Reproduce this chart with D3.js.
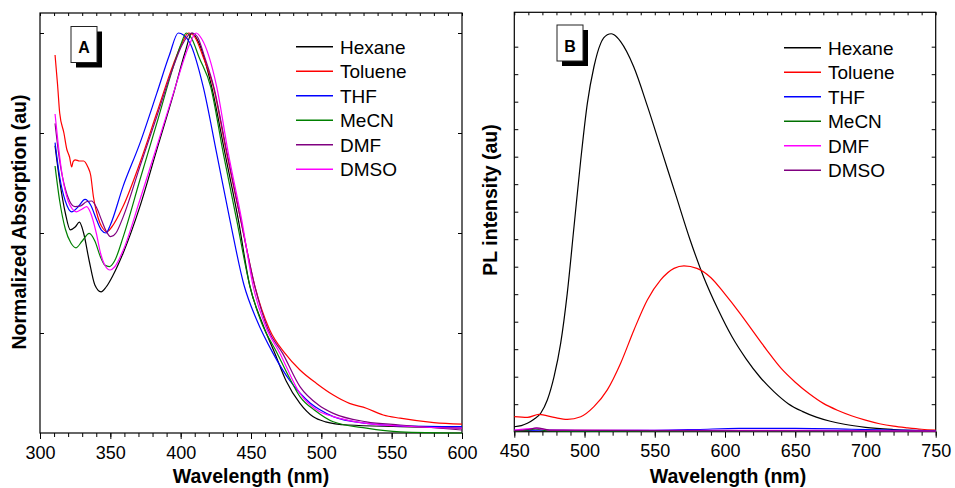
<!DOCTYPE html>
<html>
<head>
<meta charset="utf-8">
<script src="https://cdn.jsdelivr.net/npm/d3@7"></script>
<style>
  body { margin: 0; background: #fff; }
  svg { display: block; font-family: Arial, "Liberation Sans", sans-serif; }
</style>
</head>
<body>
<svg id="chart" width="955" height="488"></svg>
<script>
// solvents, same order in both legends
var solvents = ["Hexane", "Toluene", "THF", "MeCN", "DMF", "DMSO"];

// panel A : normalized absorption, [wavelength nm, value]
var absHexane = [[310.7,0.718],[314,0.63],[318,0.55],[321.5,0.508],[325,0.515],[328,0.527],[331,0.5],[335,0.43],[339,0.37],[343.4,0.353],[347,0.365],[352,0.395],[359,0.449],[371,0.566],[383,0.708],[395,0.849],[403,0.95],[408,1.0],[413,0.975],[422,0.866],[431.5,0.699],[441,0.533],[449,0.37],[458,0.275],[467,0.199],[475,0.13],[484.8,0.074],[494,0.041],[503,0.028],[519,0.02],[556,0.016],[600,0.012]];
var absToluene = [[310.7,0.945],[312.5,0.87],[314,0.8],[317,0.75],[319,0.71],[321,0.69],[322.5,0.665],[323.5,0.678],[325,0.683],[328,0.68],[331,0.68],[334,0.665],[336,0.645],[338,0.59],[340,0.555],[342.6,0.525],[345,0.51],[347.4,0.503],[351,0.515],[359,0.566],[371,0.675],[383,0.8],[395,0.924],[401,0.975],[405.5,1.0],[410,0.99],[416,0.94],[423.2,0.866],[432.7,0.699],[442.7,0.533],[452.8,0.366],[463,0.26],[474.2,0.199],[484.8,0.1575],[496.6,0.124],[508.5,0.095],[520,0.074],[532,0.062],[544,0.045],[556,0.037],[580,0.026],[600,0.022]];
var absTHF = [[310.7,0.726],[314,0.64],[318,0.58],[322.5,0.553],[327,0.565],[332,0.584],[336,0.57],[340,0.535],[343.5,0.508],[347,0.5],[350,0.52],[359,0.616],[371,0.724],[383,0.849],[392,0.945],[398.3,1.0],[402,0.995],[406.6,0.975],[416,0.866],[425.6,0.699],[435,0.533],[445,0.37],[454,0.283],[465.7,0.199],[477.8,0.13],[484.8,0.1],[492,0.075],[499,0.058],[508.5,0.041],[532,0.024],[556,0.018],[600,0.016]];
var absMeCN = [[310.7,0.6675],[314,0.58],[318,0.51],[322,0.475],[325.6,0.463],[330,0.48],[335,0.499],[339,0.48],[343,0.44],[346,0.42],[349.3,0.416],[353,0.43],[359.2,0.491],[371,0.6325],[383,0.774],[394.8,0.916],[400,0.97],[404,1.0],[408,0.985],[413,0.94],[421.3,0.866],[430.3,0.699],[439.8,0.533],[449.3,0.366],[457,0.28],[468.7,0.199],[477,0.14],[484.8,0.091],[496,0.055],[508.5,0.028],[532,0.012],[556,0.003],[600,0.0]];
var absDMF = [[310.7,0.774],[314,0.68],[318,0.61],[321,0.58],[324.9,0.566],[329,0.568],[333,0.578],[336.7,0.58],[340,0.565],[344,0.53],[347,0.505],[350.2,0.491],[354,0.5],[359.2,0.541],[371,0.666],[383,0.791],[394.8,0.916],[401,0.97],[408,1.0],[412,0.99],[417,0.94],[423.5,0.866],[433,0.699],[442.7,0.533],[452.8,0.366],[462,0.26],[472.5,0.199],[484.8,0.116],[498,0.07],[508.5,0.049],[532,0.028],[556,0.02],[600,0.0075]];
var absDMSO = [[310.7,0.7975],[313,0.72],[316,0.64],[320,0.58],[323,0.56],[326,0.553],[330,0.56],[333.2,0.566],[336,0.55],[340,0.5],[343,0.45],[346,0.42],[349.8,0.4075],[353,0.415],[359.2,0.4575],[371,0.5825],[383,0.716],[394.8,0.849],[406.6,0.974],[411,1.0],[415,0.985],[425.6,0.866],[433.9,0.699],[443.4,0.533],[451.6,0.366],[460,0.27],[470.6,0.199],[484.8,0.099],[498,0.055],[508.5,0.041],[532,0.024],[556,0.0175],[600,0.012]];

// panel B : PL intensity (arbitrary units)
var plHexane = [[450,0.18],[455,0.22],[459.3,0.305],[464,0.45],[468.8,0.67],[473.5,1.15],[478.3,2.0],[483,3.21],[487.7,5.03],[492.5,7.45],[497.3,9.88],[502,11.94],[506.7,13.27],[511.5,14.12],[516.2,14.43],[519,14.47],[521,14.43],[525.7,14.18],[535,13.27],[545,11.8],[555,10.2],[565,8.6],[575,7.0],[585,5.6],[595,4.45],[605,3.45],[615,2.65],[625,1.98],[635,1.45],[645,1.02],[655,0.74],[665,0.53],[675,0.38],[685,0.27],[700,0.16],[720,0.08],[750,0.025]];
var plToluene = [[450,0.545],[459.3,0.52],[467.6,0.63],[478.3,0.52],[487.7,0.45],[497.3,0.545],[506.7,0.91],[516.2,1.52],[525.7,2.49],[535.2,3.7],[544.7,4.79],[554.2,5.52],[563.7,5.94],[570.8,6.03],[580,5.94],[590,5.6],[600,5.0],[610,4.35],[620,3.65],[630,2.95],[640,2.3],[650,1.8],[660,1.38],[670,1.03],[680,0.78],[690,0.58],[700,0.42],[710,0.29],[720,0.2],[730,0.14],[740,0.09],[750,0.06]];
var plTHF = [[450,0.05],[470,0.06],[500,0.04],[550,0.05],[580,0.08],[610,0.12],[650,0.12],[690,0.09],[720,0.06],[750,0.03]];
var plMeCN = [[450,0.03],[460,0.06],[465,0.1],[472,0.04],[500,0.02],[600,0.02],[750,0.01]];
var plDMF = [[450,0.06],[465,0.12],[475,0.06],[550,0.05],[650,0.05],[750,0.02]];
var plDMSO = [[450,0.04],[460,0.08],[466,0.14],[475,0.06],[550,0.04],[650,0.03],[750,0.02]];

// axis ticks
var xTicksA = [300, 350, 400, 450, 500, 550, 600];
var xTicksB = [450, 500, 550, 600, 650, 700, 750];
var yTicksA = [0.25, 0.5, 0.75, 1];
var yTicksB = [1, 2, 3, 4, 5, 6, 7, 8, 9, 10, 11, 12, 13, 14];

var svg = d3.select("#chart");

function drawPanel(p) {
  var x = d3.scaleLinear().domain(p.xDomain).range([p.left, p.right]);
  var y = d3.scaleLinear().domain(p.yDomain).range([p.bottom, p.top]);
  var g = svg.append("g");

  var minor = d3.range(p.xDomain[0], p.xDomain[1] + 1, 10);

  // bottom axis, ticks outside
  g.append("g")
    .attr("transform", "translate(0," + p.bottom + ")")
    .call(d3.axisBottom(x).tickValues(minor).tickSize(4).tickFormat(""))
    .call(function(a) { a.select(".domain").remove(); });
  g.append("g")
    .attr("transform", "translate(0," + p.bottom + ")")
    .call(d3.axisBottom(x).tickValues(p.xTicks).tickSize(6).tickPadding(7))
    .call(function(a) {
      a.select(".domain").remove();
      a.selectAll("text").attr("font-size", "18px").attr("fill", "#000")
        .style("font-family", "Arial, 'Liberation Sans', sans-serif");
    });

  // top axis, small ticks inside
  g.append("g")
    .attr("transform", "translate(0," + p.top + ")")
    .call(d3.axisTop(x).tickValues(minor).tickSize(-3).tickFormat(""))
    .call(function(a) { a.select(".domain").remove(); });

  // left and right, inside
  g.append("g")
    .attr("transform", "translate(" + p.left + ",0)")
    .call(d3.axisLeft(y).tickValues(p.yTicks).tickSize(-4).tickFormat(""))
    .call(function(a) { a.select(".domain").remove(); });
  g.append("g")
    .attr("transform", "translate(" + p.right + ",0)")
    .call(d3.axisRight(y).tickValues(p.yTicks).tickSize(-4).tickFormat(""))
    .call(function(a) { a.select(".domain").remove(); });

  // frame
  g.append("rect")
    .attr("x", p.left).attr("y", p.top)
    .attr("width", p.right - p.left).attr("height", p.bottom - p.top)
    .attr("fill", "none").attr("stroke", "#000").attr("stroke-width", 1.2);

  // curves
  var line = d3.line()
    .x(function(d) { return x(d[0]); })
    .y(function(d) { return y(d[1]); })
    .curve(d3.curveMonotoneX);

  p.series.forEach(function(s, i) {
    g.append("path")
      .datum(s)
      .attr("d", line)
      .attr("fill", "none")
      .attr("stroke", p.colors[i])
      .attr("stroke-width", 1.2);
  });

  // legend
  solvents.forEach(function(name, i) {
    var ly = p.legendY + i * 24.5;
    g.append("line")
      .attr("x1", p.legendX).attr("x2", p.legendX + 37)
      .attr("y1", ly).attr("y2", ly)
      .attr("stroke", p.colors[i]).attr("stroke-width", 1.5);
    g.append("text")
      .attr("x", p.legendX + 44).attr("y", ly + 7)
      .attr("font-size", "19px")
      .text(name);
  });

  // letter box with shadow
  g.append("rect")
    .attr("x", p.boxX + 5).attr("y", p.boxY + 5)
    .attr("width", 26).attr("height", 36)
    .attr("fill", "#000");
  g.append("rect")
    .attr("x", p.boxX).attr("y", p.boxY)
    .attr("width", 26).attr("height", 36)
    .attr("fill", "#fff").attr("stroke", "#222").attr("stroke-width", 1);
  g.append("text")
    .attr("x", p.boxX + 13).attr("y", p.boxY + 26.5)
    .attr("text-anchor", "middle")
    .attr("font-size", "16px").attr("font-weight", "bold")
    .text(p.letter);

  // axis titles
  g.append("text")
    .attr("x", (p.left + p.right) / 2 + p.xTitleShift).attr("y", 483)
    .attr("text-anchor", "middle")
    .attr("font-size", "19.5px").attr("font-weight", "bold")
    .text("Wavelength (nm)");
  g.append("text")
    .attr("transform", "translate(" + p.yTitleX + "," + p.yTitleY + ") rotate(-90)")
    .attr("text-anchor", "middle")
    .attr("font-size", "19.5px").attr("font-weight", "bold")
    .text(p.yTitle);
}

drawPanel({
  left: 40, right: 462, top: 13, bottom: 433,
  xDomain: [300, 600], yDomain: [0, 1.05],
  xTicks: xTicksA, yTicks: yTicksA,
  series: [absHexane, absToluene, absTHF, absMeCN, absDMF, absDMSO],
  colors: ["#000000", "#ff0000", "#0000ff", "#008000", "#800080", "#ff00ff"],
  legendX: 296, legendY: 46.7,
  boxX: 71, boxY: 26.5, letter: "A",
  xTitleShift: 0,
  yTitle: "Normalized Absorption (au)", yTitleX: 26, yTitleY: 222
});

drawPanel({
  left: 514.3, right: 935.7, top: 12.3, bottom: 431.7,
  xDomain: [450, 750], yDomain: [0, 15.25],
  xTicks: xTicksB, yTicks: yTicksB,
  series: [plHexane, plToluene, plTHF, plMeCN, plDMF, plDMSO],
  colors: ["#000000", "#ff0000", "#0000ff", "#007000", "#ff00ff", "#800080"],
  legendX: 784, legendY: 47.7,
  boxX: 557, boxY: 25, letter: "B",
  xTitleShift: 3,
  yTitle: "PL intensity (au)", yTitleX: 497, yTitleY: 200
});
</script>
</body>
</html>
